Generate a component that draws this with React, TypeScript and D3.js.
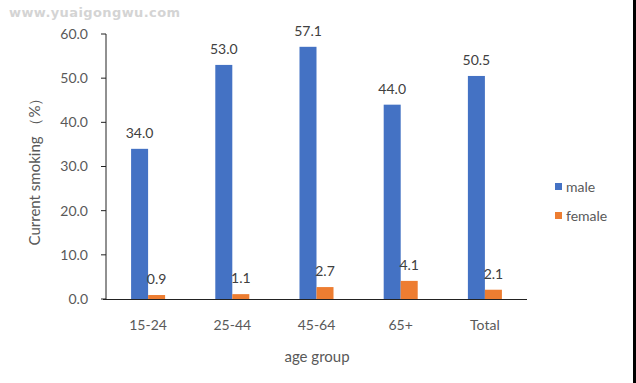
import React from "react";
import * as d3 from "d3";

const categories = ["15-24", "25-44", "45-64", "65+", "Total"];
const maleValues = [34.0, 53.0, 57.1, 44.0, 50.5];
const femaleValues = [0.9, 1.1, 2.7, 4.1, 2.1];
const yTicks = [0, 10, 20, 30, 40, 50, 60];
const seriesNames = ["male", "female"];

const W = 636;
const H = 383;
const FONT = "Lato, 'Open Sans', sans-serif";
const TEXT = "#595959";
const BLUE = "#4472C4";
const ORANGE = "#ED7D31";

export default function App() {
  const x = d3
    .scaleBand<string>()
    .domain(categories)
    .range([106, 527])
    .paddingInner(0.596)
    .paddingOuter(0.298);
  const y = d3.scaleLinear().domain([0, 60]).range([299, 34]);
  const bw = x.bandwidth() / 2;
  const series = [
    { name: seriesNames[0], values: maleValues, color: BLUE, off: 0 },
    { name: seriesNames[1], values: femaleValues, color: ORANGE, off: bw },
  ];
  return (
    <svg
      width={W}
      height={H}
      style={{ position: "absolute", left: 0, top: 0, background: "#fff" }}
      fontFamily={FONT}
    >
      <rect x={0} y={0} width={W} height={H} fill="#fff" />
      <text
        x={9}
        y={17}
        fontSize={13}
        fontWeight="bold"
        fontFamily="'DejaVu Sans', sans-serif"
        fill="#d4d4d4"
        letterSpacing={0.4}
      >
        www.yuaigongwu.com
      </text>
      {/* y axis */}
      <line x1={106} x2={106} y1={y(60)} y2={y(0)} stroke="#222" strokeWidth={1} />
      {yTicks.map((t) => (
        <g key={t}>
          <line x1={101} x2={106} y1={y(t)} y2={y(t)} stroke="#222" />
          <text x={88} y={y(t)} dy="0.35em" textAnchor="end" fontSize={14} fill={TEXT}>
            {t.toFixed(1)}
          </text>
        </g>
      ))}
      {/* bars */}
      {series.map((s) =>
        categories.map((c, i) => (
          <g key={s.name + c}>
            <rect
              x={(x(c) as number) + s.off}
              y={y(s.values[i])}
              width={bw}
              height={y(0) - y(s.values[i])}
              fill={s.color}
            />
            <text
              x={(x(c) as number) + s.off + bw / 2}
              y={y(s.values[i]) - 11}
              textAnchor="middle"
              fontSize={14}
              fill="#404040"
            >
              {s.values[i].toFixed(1)}
            </text>
          </g>
        ))
      )}
      {/* x axis */}
      <line x1={103} x2={527} y1={299.5} y2={299.5} stroke="#222" strokeWidth={1} />
      {categories.map((c) => (
        <text
          key={c}
          x={(x(c) as number) + x.bandwidth() / 2}
          y={330}
          textAnchor="middle"
          fontSize={14}
          fill={TEXT}
        >
          {c}
        </text>
      ))}
      <text x={317} y={362} textAnchor="middle" fontSize={15} fill={TEXT}>
        age group
      </text>
      <text
        transform={`translate(40,168) rotate(-90)`}
        textAnchor="middle"
        fontSize={15}
        fill={TEXT}
      >
        Current smoking （%）
      </text>
      {/* legend */}
      {series.map((s, i) => (
        <g key={s.name} transform={`translate(555,${183 + i * 29})`}>
          <rect x={0} y={0} width={7} height={7} fill={s.color} />
          <text x={11} y={4} dy="0.35em" fontSize={14} fill={TEXT}>
            {s.name}
          </text>
        </g>
      ))}
      <rect x={633} y={0} width={3} height={H} fill="#000" />
    </svg>
  );
}
